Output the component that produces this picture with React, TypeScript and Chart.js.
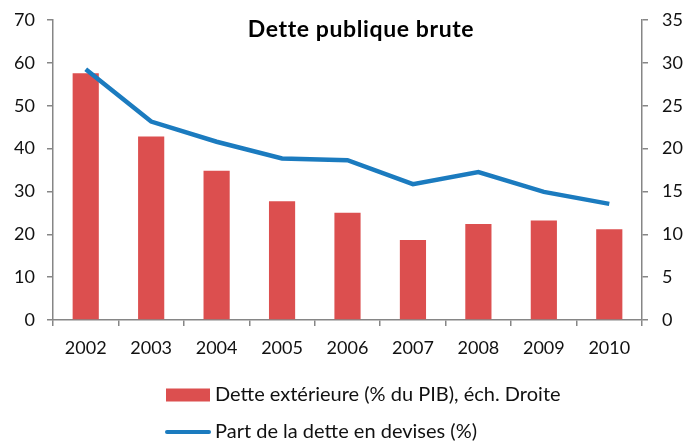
import React, { useEffect, useRef } from "react";
import { Chart, registerables } from "chart.js";

Chart.register(...registerables);

const categories = ["2002", "2003", "2004", "2005", "2006", "2007", "2008", "2009", "2010"];
const detteExterieure = [28.8, 21.4, 17.4, 13.85, 12.5, 9.33, 11.2, 11.6, 10.6];
const partDevises = [58.5, 46.3, 41.6, 37.7, 37.3, 31.7, 34.5, 29.9, 27.1];
const titleText = "Dette publique brute";
const barLabel = "Dette extérieure (% du PIB), éch. Droite";
const lineLabel = "Part de la dette en devises (%)";

const FONT = "Lato, 'Open Sans', sans-serif";
const AXIS = "#868686";
const RED = "#dc4f4f";
const BLUE = "#1b7bbf";

const titlePlugin = {
  id: "customTitle",
  afterDraw(chart: any) {
    const { ctx } = chart;
    ctx.save();
    ctx.font = `bold 23px ${FONT}`;
    (ctx as any).letterSpacing = "0.6px";
    ctx.fillStyle = "#000";
    ctx.textAlign = "center";
    ctx.textBaseline = "middle";
    ctx.fillText(titleText, 361, 30);
    ctx.restore();
  },
};

const legendPlugin = {
  id: "customLegend",
  afterDraw(chart: any) {
    const { ctx } = chart;
    const x0 = 166;
    const y1 = 395;
    const y2 = 432;
    ctx.save();
    ctx.fillStyle = RED;
    ctx.fillRect(x0, y1 - 6.5, 44, 13);
    ctx.strokeStyle = BLUE;
    ctx.lineWidth = 4;
    ctx.lineCap = "round";
    ctx.beginPath();
    ctx.moveTo(x0 + 1, y2);
    ctx.lineTo(x0 + 43, y2);
    ctx.stroke();
    ctx.font = `20px ${FONT}`;
    ctx.fillStyle = "#111";
    ctx.textAlign = "left";
    ctx.textBaseline = "middle";
    ctx.fillText(chart.data.datasets[0].label, x0 + 49, y1);
    ctx.fillText(chart.data.datasets[1].label, x0 + 49, y2);
    ctx.restore();
  },
};

function fixY(width: number) {
  return (scale: any) => {
    scale.width = width;
    scale.paddingTop = 0;
    scale.paddingBottom = 0;
  };
}

export default function App() {
  const ref = useRef<HTMLCanvasElement | null>(null);
  useEffect(() => {
    if (!ref.current) return;
    const chart = new Chart(ref.current, {
      type: "bar",
      data: {
        labels: categories,
        datasets: [
          {
            type: "bar",
            label: barLabel,
            data: detteExterieure,
            backgroundColor: RED,
            borderWidth: 0,
            yAxisID: "yRight",
            barPercentage: 0.4,
            categoryPercentage: 1,
            order: 2,
          },
          {
            type: "line",
            label: lineLabel,
            data: partDevises,
            borderColor: BLUE,
            borderWidth: 4.5,
            pointRadius: 0,
            tension: 0,
            fill: false,
            yAxisID: "yLeft",
            order: 1,
          } as any,
        ],
      },
      options: {
        animation: false,
        responsive: false,
        maintainAspectRatio: false,
        layout: { padding: { top: 20, bottom: 70, left: 0, right: 0 } },
        plugins: {
          legend: { display: false },
          title: { display: false },
          tooltip: { enabled: false },
        },
        scales: {
          x: {
            offset: true,
            grid: { display: true, offset: true, drawOnChartArea: false, tickLength: 6, color: AXIS, lineWidth: 1.5 },
            border: { display: true, color: AXIS, width: 1.5 },
            ticks: { color: "#111", font: { family: FONT, size: 18 }, padding: 11, maxRotation: 0 },
            afterFit(scale: any) {
              scale.height = 52;
              scale.paddingLeft = 0;
              scale.paddingRight = 0;
            },
          },
          yLeft: {
            position: "left",
            min: 0,
            max: 70,
            ticks: { stepSize: 10, color: "#111", font: { family: FONT, size: 18 }, padding: 12 },
            grid: { display: true, drawOnChartArea: false, tickLength: 6, color: AXIS, lineWidth: 1.5 },
            border: { display: true, color: AXIS, width: 1.5 },
            afterFit: fixY(53),
          },
          yRight: {
            position: "right",
            min: 0,
            max: 35,
            ticks: { stepSize: 5, color: "#111", font: { family: FONT, size: 18 }, padding: 14 },
            grid: { display: true, drawOnChartArea: false, tickLength: 6, color: AXIS, lineWidth: 1.5 },
            border: { display: true, color: AXIS, width: 1.5 },
            afterFit: fixY(46),
          },
        },
      },
      plugins: [titlePlugin, legendPlugin],
    });
    return () => chart.destroy();
  }, []);
  return (
    <div style={{ position: "fixed", left: 0, top: 0, width: 688, height: 442, background: "#fff" }}>
      <canvas ref={ref} width={688} height={442} style={{ width: 688, height: 442 }} />
    </div>
  );
}
